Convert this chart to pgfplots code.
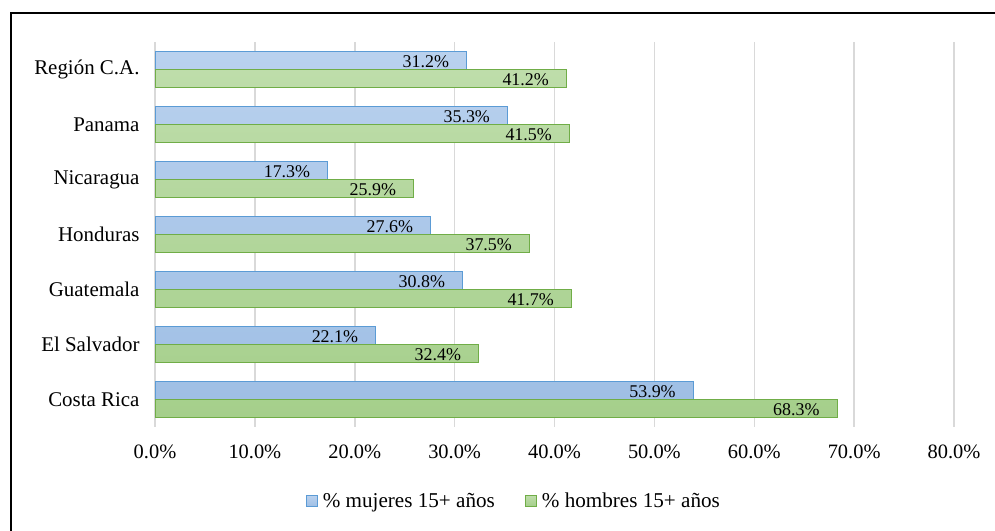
\documentclass[border=0pt]{standalone}
\usepackage{pgfplots}
\pgfplotsset{compat=1.18}
\usepackage{fontspec}
\setmainfont{Liberation Serif}

\definecolor{mujEdge}{HTML}{5B9BD5}
\definecolor{mujTop}{HTML}{B9D1EE}
\definecolor{mujBot}{HTML}{9FBFE5}
\definecolor{homEdge}{HTML}{70AD47}
\definecolor{homTop}{HTML}{BEDDAA}
\definecolor{homBot}{HTML}{A5CF8B}
\definecolor{gridgray}{HTML}{D9D9D9}

\begin{document}
\begin{tikzpicture}[x=1bp,y=1bp]
\useasboundingbox (0,0) rectangle (995,531);
% outer chart frame
\draw[line width=1.6bp] (11,-2) -- (11,518) -- (997,518);

\begin{axis}[
  at={(155bp,104bp)}, anchor=south west,
  scale only axis,
  width=799bp, height=385bp,
  xmin=0, xmax=80,
  ymin=-0.5, ymax=6.5,
  axis line style={draw=none},
  major tick length=0pt,
  xtick={0,10,...,80},
  ytick={0,...,6},
  yticklabels={Costa Rica, El Salvador, Guatemala, Honduras, Nicaragua, Panama, Región C.A.},
  /pgf/number format/assume math mode=true,
  xticklabel={\pgfmathprintnumber[fixed,fixed zerofill,precision=1]{\tick}\%},
  xmajorgrids=true,
  major grid style={draw=gridgray, line width=1.5bp},
  xticklabel style={yshift=-14bp, font=\fontsize{20.5}{23}\selectfont},
  yticklabel style={xshift=-12bp, font=\fontsize{21}{24}\selectfont},
  bar width=18bp,
  point meta=x,
  nodes near coords={\pgfmathprintnumber[fixed,fixed zerofill,precision=1]{\pgfplotspointmeta}\%},
  nodes near coords style={anchor=east, xshift=-17bp, inner sep=0pt, font=\fontsize{18}{20}\selectfont, text=black},
  legend columns=2,
  legend style={at={(0.449,-0.192)}, anchor=center, draw=none, fill=none,
    font=\fontsize{21.2}{24}\selectfont,
    /tikz/every even column/.append style={column sep=28bp}},
  legend cell align=left,
  legend image code/.code={\draw[#1,line width=1bp] (0bp,-5.5bp) rectangle (11bp,5.5bp); \path (14bp,0bp);},
]
\addplot[xbar, bar shift=9bp, draw=mujEdge, line width=1.3bp, top color=mujTop, bottom color=mujBot,
  every node near coord/.append style={yshift=8bp}]
  coordinates {(53.9,0) (22.1,1) (30.8,2) (27.6,3) (17.3,4) (35.3,5) (31.2,6)};
\addlegendentry{\% mujeres 15+ años}
\addplot[xbar, bar shift=-9bp, draw=homEdge, line width=1.3bp, top color=homTop, bottom color=homBot,
  every node near coord/.append style={yshift=-10bp}]
  coordinates {(68.3,0) (32.4,1) (41.7,2) (37.5,3) (25.9,4) (41.5,5) (41.2,6)};
\addlegendentry{\% hombres 15+ años}
\end{axis}
\end{tikzpicture}
\end{document}
